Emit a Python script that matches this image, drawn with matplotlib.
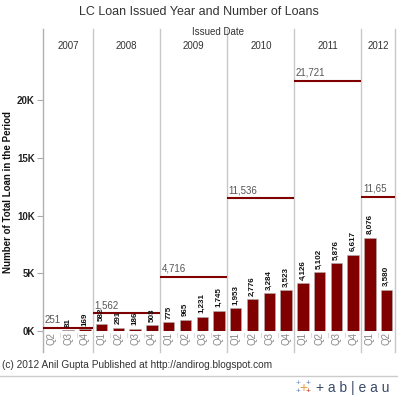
import matplotlib
matplotlib.use("Agg")
import matplotlib.pyplot as plt

plt.rcParams['font.family'] = ['Liberation Sans', 'DejaVu Sans']

years = ["2007", "2008", "2009", "2010", "2011", "2012"]
quarters = [["Q2", "Q3", "Q4"],
            ["Q1", "Q2", "Q3", "Q4"],
            ["Q1", "Q2", "Q3", "Q4"],
            ["Q1", "Q2", "Q3", "Q4"],
            ["Q1", "Q2", "Q3", "Q4"],
            ["Q1", "Q2"]]
values = [[1, 81, 169],
          [582, 291, 186, 503],
          [775, 965, 1231, 1745],
          [1953, 2776, 3284, 3523],
          [4126, 5102, 5876, 6617],
          [8076, 3580]]
year_totals = [251, 1562, 4716, 11536, 21721, 11656]
year_total_labels = ["251", "1,562", "4,716", "11,536", "21,721", "11,65"]
yticks = [0, 5000, 10000, 15000, 20000]
ytick_labels = ["0K", "5K", "10K", "15K", "20K"]

W, H = 398, 400
fig = plt.figure(figsize=(W / 100, H / 100), dpi=100)

def fx(px):
    return px / W

def fy(py):
    return 1 - py / H

left_px, right_px, top_px, bot_px = 43, 395, 52, 331
ax = fig.add_axes([fx(left_px), fy(bot_px), fx(right_px) - fx(left_px), fy(top_px) - fy(bot_px)])
blend = matplotlib.transforms.blended_transform_factory(ax.transData, fig.transFigure)

bar_color = "#800000"
grid_color = "#c8c8c8"
n = sum(len(q) for q in quarters)
ax.set_xlim(0, n)
ax.set_ylim(0, 24200)

idx = 0
bounds = [0]
for yi, (qs, vals) in enumerate(zip(quarters, values)):
    start = idx
    for q, v in zip(qs, vals):
        x = idx + 0.5
        ax.bar(x, v, width=0.68, color=bar_color, edgecolor="#b0b0b0", linewidth=0.4, zorder=3)
        if v >= 10:
            ax.text(x, v + 300, f"{v:,}", rotation=90, ha="center", va="bottom",
                    fontsize=5.8, fontweight="bold", color="#111111", zorder=5)
        ax.text(x, -0.004, q, rotation=90, ha="center", va="top", fontsize=7,
                color="#888888", transform=ax.get_xaxis_transform(), clip_on=False)
        idx += 1
    end = idx
    bounds.append(end)
    tot = year_totals[yi]
    ax.plot([start, end], [tot, tot], color=bar_color, lw=1.5, zorder=4, solid_capstyle="butt")
    ax.text(start + 0.08, tot + 250, year_total_labels[yi], ha="left", va="bottom",
            fontsize=7, color="#555555", zorder=5)
    ax.text((start + end) / 2, fy(46), years[yi], ha="center", va="center", fontsize=7,
            color="#333333", transform=blend)

for b in bounds:
    ax.plot([b, b], [fy(29), fy(352)], color="#b0b0b0" if b == 0 else grid_color,
            lw=1, transform=blend, clip_on=False, zorder=2)
for i in range(1, n):
    if i not in bounds:
        ax.plot([i, i], [fy(333), fy(337)], color="#dddddd", lw=0.8, transform=blend, clip_on=False)

for s in ax.spines.values():
    s.set_visible(False)
ax.set_xticks([])
ax.set_yticks(yticks)
ax.set_yticklabels(ytick_labels, fontsize=7, fontweight="bold", color="#222222")
ax.tick_params(axis="y", length=4, color="#aaaaaa", pad=2)

fig.text(fx(8), fy(192), "Number of Total Loan in the Period", rotation=90, ha="center",
         va="center", fontsize=7, fontweight="bold", color="#111111")
fig.text(0.5, fy(12), "LC Loan Issued Year and Number of Loans", ha="center", va="center",
         fontsize=9, color="#333333")
fig.text(fx(218), fy(32), "Issued Date", ha="center", va="center", fontsize=7, color="#333333")
fig.text(fx(2), fy(365), "(c) 2012 Anil Gupta Published at http://andirog.blogspot.com",
         ha="left", va="center", fontsize=7.3, color="#333333")
fig.add_artist(matplotlib.lines.Line2D([0, 1], [fy(376), fy(376)], color="#cccccc", lw=1))

# tableau logo
fig.text(fx(303), fy(388), "+", ha="center", va="center", fontsize=10, color="#e8a33c")
fig.text(fx(298), fy(384), "+", ha="center", va="center", fontsize=6, color="#6a8ec0")
fig.text(fx(308), fy(392), "+", ha="center", va="center", fontsize=6, color="#c0392b")
fig.text(fx(308), fy(384), "+", ha="center", va="center", fontsize=6, color="#5b7fb5")
fig.text(fx(298), fy(392), "+", ha="center", va="center", fontsize=6, color="#5b7fb5")
fig.text(fx(316), fy(388), "+ a b | e a u", ha="left", va="center", fontsize=10,
         color="#3a4a6b")

fig.savefig("out.png", dpi=100)
